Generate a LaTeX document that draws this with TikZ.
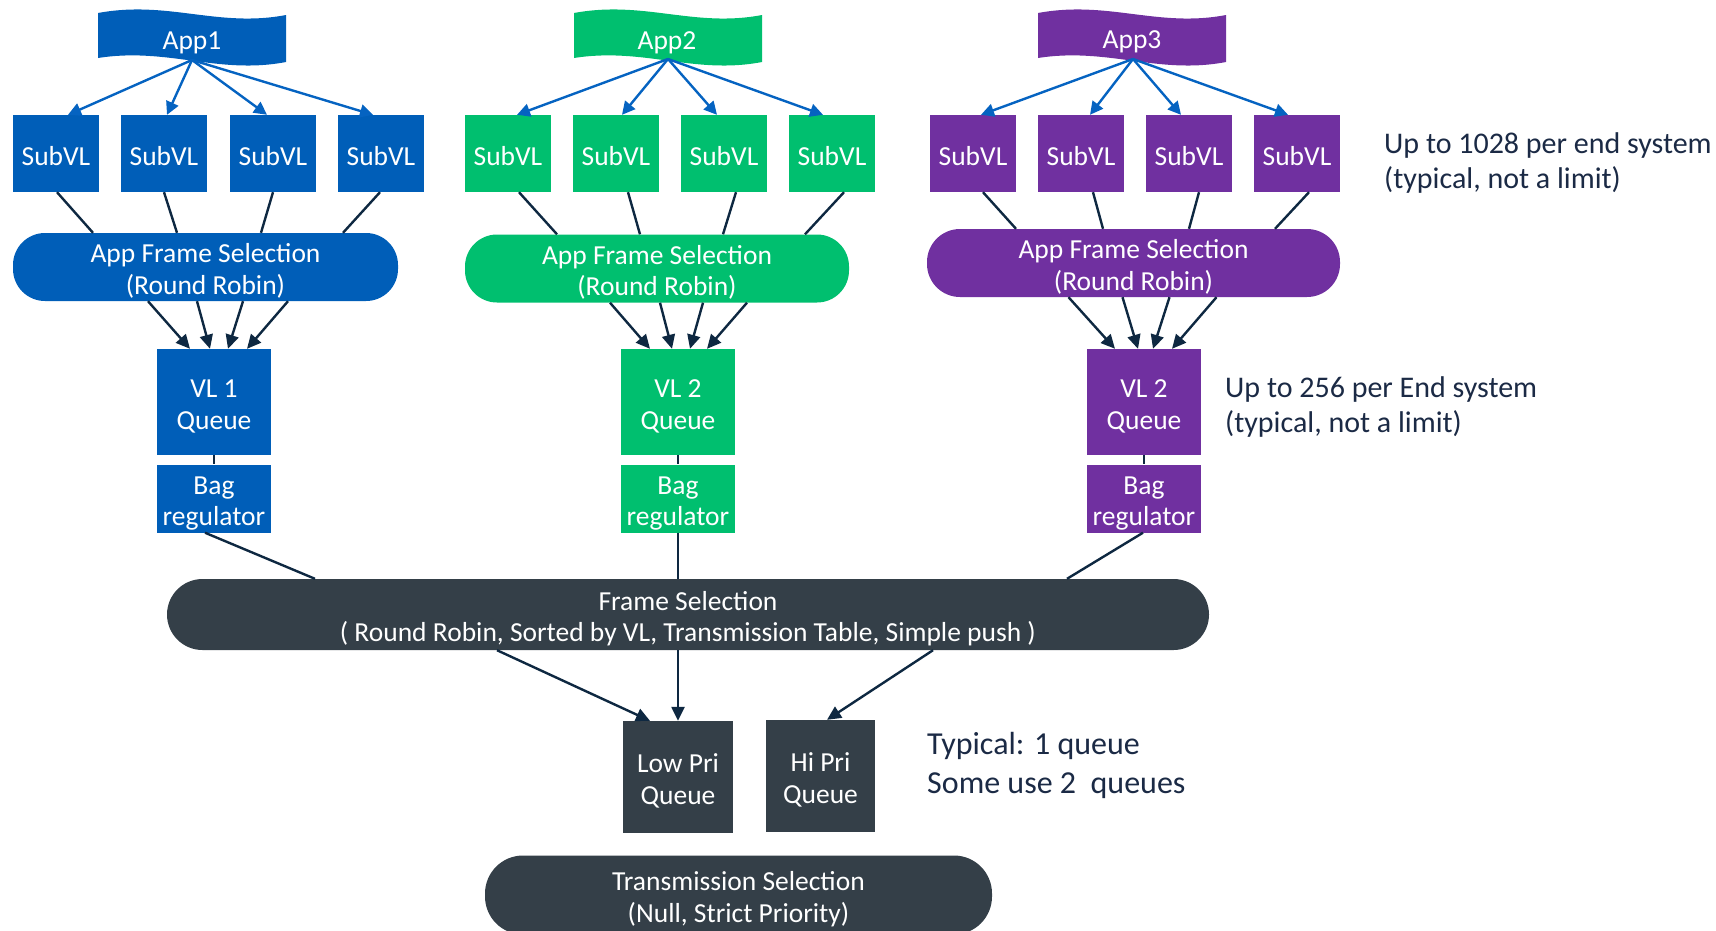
\documentclass[tikz,border=0pt]{standalone}
\usepackage{fontspec}
\setmainfont{Carlito}
\usetikzlibrary{arrows.meta,calc}
\definecolor{gblue}{HTML}{005EB8}
\definecolor{ggreen}{HTML}{00BF6F}
\definecolor{gpurple}{HTML}{7030A0}
\definecolor{gdark}{HTML}{343F48}
\definecolor{gnavy}{HTML}{0E2841}
\definecolor{gtext}{HTML}{1B2A45}
\definecolor{garrow}{HTML}{0563C1}
\begin{document}
\begin{tikzpicture}[x=1pt,y=-1pt,
  every node/.style={font=\fontsize{27.5}{31.5}\selectfont},
  lbl/.style={text=white, inner sep=0pt, align=center,
    execute at begin node={\rule{0pt}{#1}},
    execute at end node={\rule[-7pt]{0pt}{7pt}}},
  lbl/.default=30.5pt,
  subvl/.style={lbl, minimum width=86pt, minimum height=77pt},
  pill/.style={lbl=61pt, rounded corners=#1},
  queue/.style={lbl=61pt, minimum width=114pt, minimum height=106pt},
  bag/.style={lbl=61pt, minimum width=114pt, minimum height=65pt},
  prio/.style={lbl=61pt, fill=gdark, minimum width=110pt, minimum height=112pt},
  note/.style={text=gtext, anchor=west, align=left, inner sep=0pt, font=\fontsize{30}{35}\selectfont},
  fan/.style={garrow, line width=2.4pt, -{Triangle[length=13pt,width=13pt]}},
  arr/.style={gnavy, line width=2.4pt, -{Triangle[length=14pt,width=13pt]}},
  link/.style={gnavy, line width=2.4pt},
  banner/.pic={\fill[pic actions] (0,13) .. controls (70,0) and (120,28) .. (188,15) -- (188,62) .. controls (120,75) and (70,47) .. (0,58) -- cycle;}
]
\useasboundingbox (0,0) rectangle (1716,930);

% banners
\pic[fill=gblue] at (98,0) {banner};
\pic[fill=ggreen] at (574,0) {banner};
\pic[fill=gpurple] at (1038,0) {banner};
\node[lbl] (app1) at (192,38) {App1};
\node[lbl] (app2) at (667,38) {App2};
\node[lbl] (app3) at (1132,37) {App3};
\coordinate (app1o) at (192,60);
\coordinate (app2o) at (668,59);
\coordinate (app3o) at (1133,59);

% SubVL boxes
\foreach \g/\col/\xa/\xb/\xc/\xd in {1/gblue/56/164/273/381, 2/ggreen/508/616/724/832, 3/gpurple/973/1081/1189/1297}{
  \node[subvl, fill=\col] (s\g1) at (\xa,153.5) {SubVL};
  \node[subvl, fill=\col] (s\g2) at (\xb,153.5) {SubVL};
  \node[subvl, fill=\col] (s\g3) at (\xc,153.5) {SubVL};
  \node[subvl, fill=\col] (s\g4) at (\xd,153.5) {SubVL};
}

% App frame selection pills
\node[pill=32, fill=gblue, minimum width=385pt, minimum height=64pt] (afs1) at (205.5,267) {App Frame Selection\\(Round Robin)};
\node[pill=32, fill=ggreen, minimum width=384pt, minimum height=65pt] (afs2) at (657,268.5) {App Frame Selection\\(Round Robin)};
\node[pill=33, fill=gpurple, minimum width=413pt, minimum height=66pt] (afs3) at (1133.5,263) {App Frame Selection\\(Round Robin)};

% VL queues and bag regulators
\node[queue, fill=gblue] (q1) at (214,402) {VL 1\\Queue};
\node[queue, fill=ggreen] (q2) at (678,402) {VL 2\\Queue};
\node[queue, fill=gpurple] (q3) at (1144,402) {VL 2\\Queue};
\node[bag, fill=gblue] (b1) at (214,498.5) {Bag\\regulator};
\node[bag, fill=ggreen] (b2) at (678,498.5) {Bag\\regulator};
\node[bag, fill=gpurple] (b3) at (1144,498.5) {Bag\\regulator};

% Frame selection
\node[pill=35.5, fill=gdark, minimum width=1042pt, minimum height=71pt] (fs) at (688,614.5) {Frame Selection\\( Round Robin, Sorted by VL, Transmission Table, Simple push )};

% priority queues
\node[prio] (lowq) at (678,777) {Low Pri\\Queue};
\node[prio, minimum width=109pt] (hiq) at (820.5,776) {Hi Pri\\Queue};

% transmission selection (cut by bottom edge)
\begin{scope}
\clip (0,0) rectangle (1716,930);
\node[pill=38, fill=gdark, minimum width=507pt, minimum height=79pt] (ts) at (738.5,895) {Transmission Selection\\(Null, Strict Priority)};
\end{scope}

% notes
\node[note] (n1) at (1384,163) {Up to 1028 per end system\\(typical, not a limit)};
\node[note] (n2) at (1225,407) {Up to 256 per End system\\(typical, not a limit)};
\node[note, font=\fontsize{32}{39}\selectfont] (n3) at (927,765) {Typical: 1 queue\\Some use 2\ \ queues};

% app -> SubVL arrows
\foreach \g/\i/\dx in {1/1/12,1/2/3,1/3/-6,1/4/-8, 2/1/9,2/2/6,2/3/-7,2/4/-9, 3/1/8,3/2/9,3/3/-8,3/4/-9}
  \draw[fan] (app\g o) -- ([xshift=\dx pt]s\g\i.north);

% SubVL -> pill links
\foreach \g/\i/\sx/\ex in {1/1/1/-112.5, 1/2/0/-28.5, 1/3/0/55.5, 1/4/-1/137.5, 2/1/11/-100, 2/2/12/-17, 2/3/12/66, 2/4/12/148, 3/1/10/-117.5, 3/2/12/-30.5, 3/3/10/55.5, 3/4/12/141.5}
  \draw[link] ([xshift=\sx pt]s\g\i.south) -- ([xshift=\ex pt]afs\g.north);

% pill -> queue arrows
\foreach \g/\sx/\ex in {1/-57.5/-24, 1/-8.5/-4, 1/37.5/14, 1/82.5/33, 2/-47/-28, 2/3/-6, 2/46/12, 2/90/29, 3/-65/-29, 3/-11/-6, 3/36/9, 3/83/28}
  \draw[arr] ([xshift=\sx pt]afs\g.south) -- ([xshift=\ex pt]q\g.north);

% queue -> bag
\foreach \g in {1,2,3}
  \draw[link] (q\g.south) -- (b\g.north);

% bag -> frame selection
\draw[link] ([xshift=-9pt]b1.south) -- ([xshift=-373pt]fs.north);
\draw[link] (b2.south) -- ([xshift=-10pt]fs.north);
\draw[link] ([xshift=-1pt]b3.south) -- ([xshift=379pt]fs.north);

% frame selection -> priority queues
\draw[arr] ([xshift=-191pt]fs.south) -- ([xshift=-28pt]lowq.north);
\draw[arr] ([xshift=-10pt]fs.south) -- (lowq.north);
\draw[arr] ([xshift=245pt]fs.south) -- ([xshift=6.5pt]hiq.north);
\end{tikzpicture}
\end{document}
